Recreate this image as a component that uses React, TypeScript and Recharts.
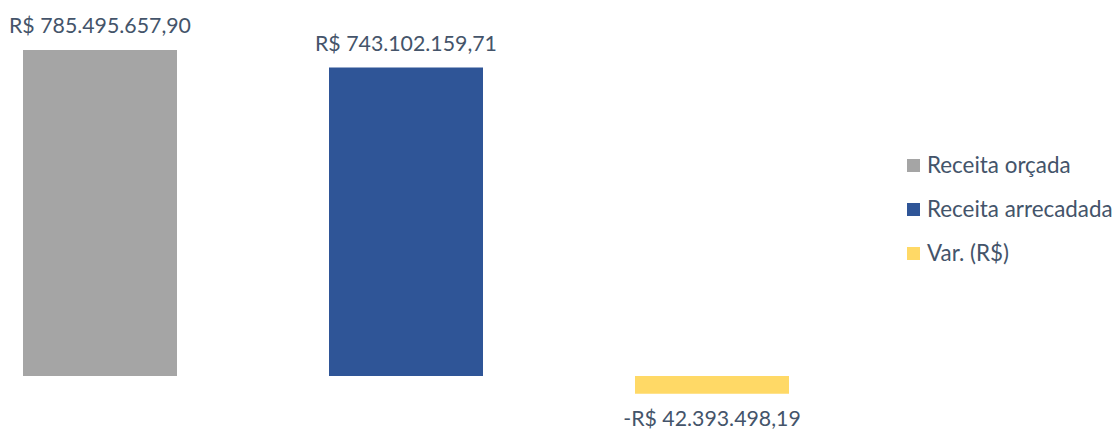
import { Bar, BarChart, LabelList, XAxis, YAxis } from "recharts";

// Receita orçada x arrecadada, uma categoria com três séries (como no Excel).
const SERIES_NAMES = ["Receita orçada", "Receita arrecadada", "Var. (R$)"];
const SERIES_VALUES = [785495657.9, 743102159.71, -42393498.19];
const SERIES_COLORS = ["#A5A5A5", "#2F5597", "#FFD966"];
const CATEGORY = "Receitas";

const TEXT_COLOR = "#44546A";
const FONT = "Lato, 'Open Sans', sans-serif";

const rows = [
  {
    name: CATEGORY,
    ...Object.fromEntries(SERIES_VALUES.map((v, i) => [`s${i}`, v])),
  },
];

/** 785495657.9 → "R$ 785.495.657,90" */
function formatBRL(value: number): string {
  const [int, dec] = Math.abs(value).toFixed(2).split(".");
  const grouped = int.replace(/\B(?=(\d{3})+(?!\d))/g, ".");
  return `${value < 0 ? "-" : ""}R$ ${grouped},${dec}`;
}

export default function App() {
  return (
    <div style={{ position: "absolute", left: 0, top: 0, width: 1116, height: 430, fontFamily: FONT }}>
      <BarChart
        width={1116}
        height={430}
        data={rows}
        margin={{ top: 0, right: 304, bottom: 0, left: 0 }}
        barSize={154}
        barGap={152}
      >
        <XAxis dataKey="name" hide />
        <YAxis hide domain={[-130e6, 906e6]} />
        {SERIES_NAMES.map((name, i) => (
          <Bar key={name} dataKey={`s${i}`} name={name} fill={SERIES_COLORS[i]} isAnimationActive={false}>
            <LabelList
              dataKey={`s${i}`}
              position="top"
              offset={17}
              formatter={(v: number) => formatBRL(v)}
              fill={TEXT_COLOR}
              fontSize={21.3}
              fontFamily={FONT}
            />
          </Bar>
        ))}
      </BarChart>

      {/* Legenda à direita, fora da área de plot */}
      <div
        style={{
          position: "absolute",
          left: 907,
          top: 154,
          display: "flex",
          flexDirection: "column",
          gap: 22,
        }}
      >
        {SERIES_NAMES.map((name, i) => (
          <div key={name} style={{ display: "flex", alignItems: "center", height: 22 }}>
            <span
              style={{ display: "inline-block", width: 13, height: 13, background: SERIES_COLORS[i], marginRight: 7 }}
            />
            <span style={{ fontSize: 22.4, lineHeight: "22px", color: TEXT_COLOR, whiteSpace: "nowrap" }}>{name}</span>
          </div>
        ))}
      </div>
    </div>
  );
}
